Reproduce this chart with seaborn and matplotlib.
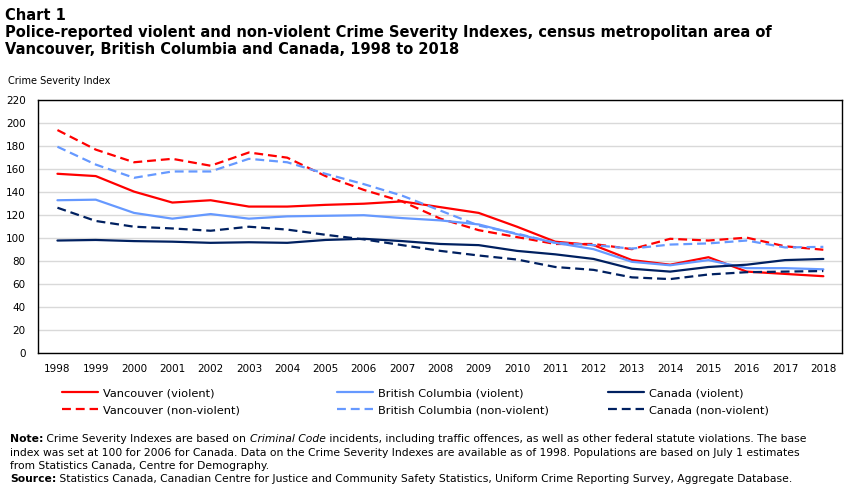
import numpy as np
import pandas as pd
import matplotlib
matplotlib.use('Agg')
import matplotlib.pyplot as plt
import seaborn as sns
from matplotlib.lines import Line2D

# data
years = list(range(1998, 2019))
van_violent = [156, 154, 140.5, 131, 133, 127.5, 127.5, 129, 130, 132, 127, 122, 110, 97, 94, 81, 77, 83.5, 71, 69, 67]
bc_violent = [133, 133.5, 122, 117, 121, 117, 119, 119.5, 120, 117.5, 115.5, 112, 103.5, 96, 90.5, 79.5, 76.5, 81, 74, 74, 73]
can_violent = [98, 98.5, 97.5, 97, 96, 96.5, 96, 98.5, 99.5, 97.5, 95, 94, 89, 86, 82, 73.5, 71, 75, 77, 81, 82]
van_nonviolent = [194, 177, 166, 169, 163, 174.5, 170, 154, 142, 132, 117, 107, 101, 95, 95, 90.5, 99.5, 98, 100.5, 93, 90]
bc_nonviolent = [179.5, 164, 152.5, 158, 158, 169, 166, 156, 147, 137, 124, 111, 104, 96, 94, 91, 94.5, 95.5, 98, 92, 92.5]
can_nonviolent = [126.5, 115, 110, 108.5, 106.5, 110, 107.5, 103, 99, 94, 89, 85, 81.5, 75, 72.5, 66, 64.5, 68.5, 70.5, 71, 71.5]

series = {
    'Vancouver (violent)': van_violent,
    'Vancouver (non-violent)': van_nonviolent,
    'British Columbia (violent)': bc_violent,
    'British Columbia (non-violent)': bc_nonviolent,
    'Canada (violent)': can_violent,
    'Canada (non-violent)': can_nonviolent,
}

RED = '#ff0000'
LBLUE = '#6699ff'
NAVY = '#002060'
DASH = (4, 2.2)
palette = {
    'Vancouver (violent)': RED, 'Vancouver (non-violent)': RED,
    'British Columbia (violent)': LBLUE, 'British Columbia (non-violent)': LBLUE,
    'Canada (violent)': NAVY, 'Canada (non-violent)': NAVY,
}
dashes = {k: (DASH if 'non-violent' in k else '') for k in series}

rows = []
for name, vals in series.items():
    for yr, v in zip(years, vals):
        rows.append({'year': yr, 'value': v, 'series': name})
df = pd.DataFrame(rows)

sns.set_style('white')
plt.rcParams['font.family'] = ['DejaVu Sans']
plt.rcParams['text.color'] = 'black'
plt.rcParams['axes.labelcolor'] = 'black'

fig = plt.figure(figsize=(8.51, 4.86), dpi=100)
ax = fig.add_axes([0.045, 0.273, 0.945, 0.521])

ax.grid(axis='y', color='#d9d9d9', linewidth=1.0)
ax.set_axisbelow(True)

sns.lineplot(data=df, x='year', y='value', hue='series', style='series',
             palette=palette, dashes=dashes, linewidth=1.6, legend=False,
             errorbar=None, ax=ax)

ax.set_xlim(1997.5, 2018.5)
ax.set_ylim(0, 220)
ax.set_yticks(np.arange(0, 221, 20))
ax.set_xticks(years)
ax.set_xticklabels([str(y) for y in years])
ax.set_xticks(np.arange(1998.5, 2018.5, 1), minor=True)
ax.tick_params(axis='x', which='major', length=0, pad=8, labelsize=7.5, colors='black')
ax.tick_params(axis='x', which='minor', length=4, direction='in', width=1, color='black')
ax.tick_params(axis='y', length=0, pad=9, labelsize=7.5, colors='black')
ax.set_xlabel('')
ax.set_ylabel('')
for sp in ax.spines.values():
    sp.set_visible(True)
    sp.set_color('black')
    sp.set_linewidth(1.0)

# titles
W, H = 851.0, 486.0
fig.text(5 / W, 1 - 15 / H, 'Chart 1', fontsize=10.5, fontweight='bold', va='center', ha='left')
fig.text(5 / W, 1 - 33 / H, 'Police-reported violent and non-violent Crime Severity Indexes, census metropolitan area of',
         fontsize=10.5, fontweight='bold', va='center', ha='left')
fig.text(5 / W, 1 - 50 / H, 'Vancouver, British Columbia and Canada, 1998 to 2018',
         fontsize=10.5, fontweight='bold', va='center', ha='left')
fig.text(8 / W, 1 - 81 / H, 'Crime Severity Index', fontsize=7, va='center', ha='left')

# legend, three columns
names = list(series.keys())
cols = [(names[0:2], 62), (names[2:4], 337), (names[4:6], 608)]
for labels, xpix in cols:
    handles = [Line2D([], [], color=palette[l], linewidth=1.6,
                      linestyle=('--' if 'non-violent' in l else '-'),
                      dashes=(DASH if 'non-violent' in l else (None, None))) for l in labels]
    leg = fig.legend(handles, labels, loc='upper left', bbox_to_anchor=(xpix / W, 1 - 388 / H),
                     frameon=False, fontsize=8.2, handlelength=3.2, handletextpad=0.4,
                     labelspacing=0.62, borderpad=0, borderaxespad=0)


def rich_line(ypix, parts, size=7.75):
    t = ax.annotate(parts[0][0], xy=(10 / W, 1 - ypix / H), xycoords='figure fraction',
                    fontsize=size, va='bottom', ha='left', annotation_clip=False, **parts[0][1])
    for s, kw in parts[1:]:
        t = ax.annotate(s, xy=(1, 0), xycoords=t, fontsize=size, va='bottom', ha='left',
                        annotation_clip=False, **kw)


rich_line(444, [('Note:', {'fontweight': 'bold'}),
                (' Crime Severity Indexes are based on ', {}),
                ('Criminal Code', {'fontstyle': 'italic'}),
                (' incidents, including traffic offences, as well as other federal statute violations. The base', {})])
rich_line(458, [('index was set at 100 for 2006 for Canada. Data on the Crime Severity Indexes are available as of 1998. Populations are based on July 1 estimates', {})])
rich_line(471, [('from Statistics Canada, Centre for Demography.', {})])
rich_line(484, [('Source:', {'fontweight': 'bold'}),
                (' Statistics Canada, Canadian Centre for Justice and Community Safety Statistics, Uniform Crime Reporting Survey, Aggregate Database.', {})])

fig.savefig('out.png', dpi=100)
